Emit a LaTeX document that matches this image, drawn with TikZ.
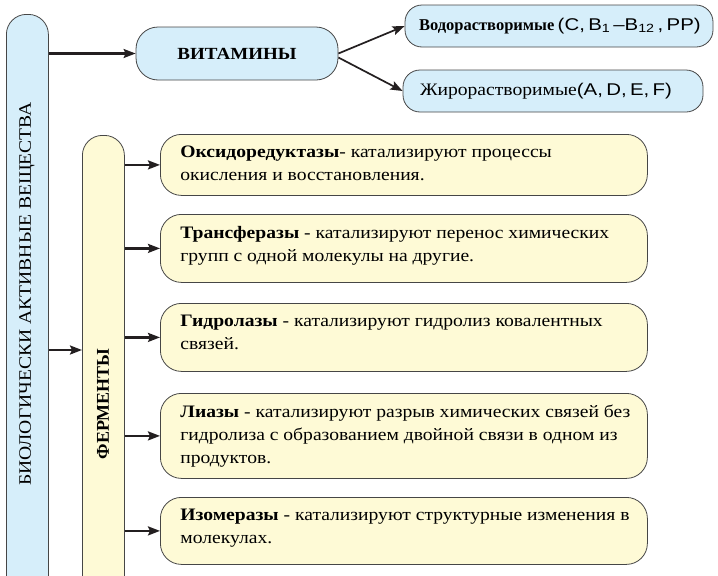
\documentclass[tikz,border=0pt]{standalone}
\usepackage{fontspec}
\setmainfont{Liberation Serif}[FakeStretch=1.12]
\newfontfamily\plainserif{Liberation Serif}
\newfontfamily\sansfont{Liberation Sans}[FakeStretch=1.2]
\usetikzlibrary{arrows.meta}

\definecolor{vitblue}{RGB}{214,238,250}
\definecolor{fermyellow}{RGB}{254,250,214}
\definecolor{edgegray}{RGB}{70,70,70}
\definecolor{arrowblack}{RGB}{35,31,32}

\newcommand{\fermtext}[2]{\makebox[447pt][l]{\parbox[t][#1][t]{470pt}{#2}}}

\begin{document}
\begin{tikzpicture}[x=1pt,y=-1pt,>={Stealth[length=12pt,width=9pt,inset=2pt]},
  bar/.style={draw=edgegray,line width=0.8pt,rounded corners=20pt,minimum width=42pt,minimum height=470pt,inner sep=0pt,anchor=north west},
  vitbox/.style={draw=edgegray,line width=0.8pt,fill=vitblue,rounded corners=17pt,minimum height=42pt,inner sep=0pt},
  fermbox/.style={draw=edgegray,line width=0.8pt,fill=fermyellow,rounded corners=21pt,inner xsep=20pt,inner ysep=12pt,anchor=north west,font=\fontsize{17.5}{23}\selectfont},
  arr/.style={->,line width=2.2pt,arrowblack},
  thinarr/.style={->,line width=1.7pt,arrowblack}]

\useasboundingbox (0,0) rectangle (718,576);
\clip (0,0) rectangle (718,576);

% The two bars on the left
\node[bar,fill=vitblue,minimum height=590pt] (bav) at (6,14) {};
\node[bar,fill=fermyellow,minimum height=470pt] (ferm) at (82,135) {};
\node[rotate=90,font=\fontsize{17.5}{20}\selectfont] (bavtext) at (27,294) {БИОЛОГИЧЕСКИ АКТИВНЫЕ ВЕЩЕСТВА};
\node[rotate=90,font=\plainserif\bfseries\fontsize{18}{20}\selectfont] (fermtext) at (103,404) {ФЕРМЕНТЫ};

% Vitamins
\node[vitbox,minimum width=202pt,minimum height=53pt,rounded corners=22pt,font=\bfseries\fontsize{17}{20}\selectfont] (vit) at (237,53.5) {ВИТАМИНЫ};
\node[vitbox,minimum width=308pt,text width=280pt,inner xsep=14pt,align=left] (water) at (559,26)
  {\mbox{{\plainserif\bfseries\fontsize{16.5}{19}\selectfont Водорастворимые} {\sansfont\fontsize{17}{19}\selectfont(C, B\textsubscript{1}\kern3pt–B\textsubscript{12}\kern3pt, PP)}}};
\node[vitbox,minimum width=300pt,text width=266pt,inner xsep=17pt,align=left] (fat) at (553,91)
  {\mbox{\fontsize{17.5}{19}\selectfont Жирорастворимые{\sansfont\fontsize{17}{19}\selectfont(A, D, E, F)}}};

\draw[arr] (vit.west -| bav.east) -- (vit.west);
\draw[thinarr] (vit.east) -- (water.west);
\draw[thinarr] ([yshift=-4pt]vit.east) -- (fat.west);

% Enzymes
\coordinate (fermin) at (82,350);
\draw[arr] (bav.east |- fermin) -- (fermin);

\node[fermbox] (oxi) at (160,134) {\fermtext{37pt}{\textbf{Оксидоредуктазы}- катализируют процессы\\ окисления и восстановления.}};
\node[fermbox] (trans) at (160,214) {\fermtext{44pt}{\textbf{Трансферазы} - катализируют перенос химических\\ групп с одной молекулы на другие.}};
\node[fermbox] (hydro) at (160,303) {\fermtext{44pt}{\textbf{Гидролазы} - катализируют гидролиз ковалентных\\ связей.}};
\node[fermbox] (lya) at (160,393) {\fermtext{61pt}{\textbf{Лиазы} - катализируют разрыв химических связей без\\ гидролиза с образованием двойной связи в одном из\\ продуктов.}};
\node[fermbox] (iso) at (160,497) {\fermtext{43pt}{\textbf{Изомеразы} - катализируют структурные изменения в\\ молекулах.}};

\foreach \b in {oxi,trans,hydro,lya,iso}
  \draw[arr] (ferm.east |- \b.west) -- (\b.west);

\end{tikzpicture}
\end{document}
